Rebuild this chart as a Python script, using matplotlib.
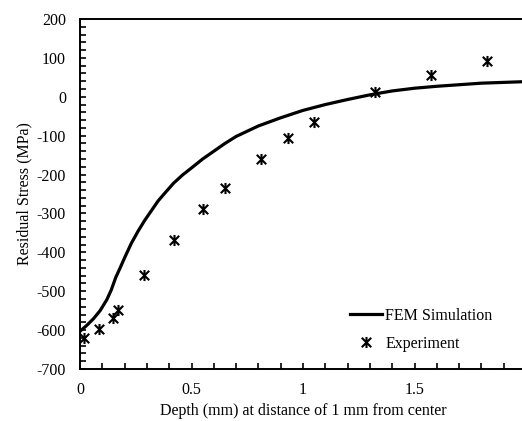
import matplotlib
matplotlib.use("Agg")
import matplotlib.pyplot as plt
from matplotlib.path import Path
from matplotlib.ticker import MultipleLocator

plt.rcParams['font.family'] = ['Liberation Serif', 'DejaVu Serif']
plt.rcParams['axes.unicode_minus'] = False

# FEM simulation curve
fem_depth = [0.0, 0.03, 0.06, 0.09, 0.12, 0.14, 0.16, 0.18, 0.2, 0.23, 0.26,
             0.29, 0.32, 0.35, 0.38, 0.42, 0.46, 0.5, 0.55, 0.6, 0.65, 0.7,
             0.8, 0.9, 1.0, 1.1, 1.2, 1.3, 1.4, 1.5, 1.6, 1.7, 1.8, 1.9, 2.0]
fem_stress = [-603, -588, -571, -550, -522, -497, -465, -440, -414, -377, -346,
              -318, -293, -268, -248, -222, -201, -183, -160, -140, -120, -102,
              -75, -54, -35, -20, -7, 5, 15, 22, 27, 31, 35, 37, 39]

# measured residual stress
exp_depth = [0.019, 0.085, 0.149, 0.172, 0.288, 0.421, 0.552, 0.651, 0.813,
             0.934, 1.049, 1.321, 1.575, 1.825]
exp_stress = [-619, -597, -569, -549, -458, -368, -289, -235, -159, -107,
              -66, 13, 56, 92]

# asterisk: vertical bar plus an X
star = Path([(0, -1), (0, 1), (-0.85, -0.85), (0.85, 0.85), (-0.85, 0.85), (0.85, -0.85)],
            [Path.MOVETO, Path.LINETO, Path.MOVETO, Path.LINETO, Path.MOVETO, Path.LINETO])

fig = plt.figure(figsize=(5.22, 4.21), dpi=100)
ax = fig.add_axes([80 / 522, 1 - 369 / 421, 446 / 522, 350 / 421])

ax.plot(fem_depth, fem_stress, color='black', lw=2.3, label='FEM Simulation',
        solid_joinstyle='round')
ax.plot(exp_depth, exp_stress, linestyle='none', marker=star, markersize=8,
        markeredgewidth=1.5, color='black', label='Experiment')

ax.set_xlim(0, 2)
ax.set_ylim(-700, 200)
ax.xaxis.set_minor_locator(MultipleLocator(0.1))
ax.yaxis.set_major_locator(MultipleLocator(100))
ax.yaxis.set_minor_locator(MultipleLocator(20))
ax.set_xticks([0, 0.5, 1, 1.5])
ax.set_xticklabels(['0', '0.5', '1', '1.5'])
ax.tick_params(which='both', direction='in', top=False, right=False,
               labelsize=11.5, width=1.2, length=4)
ax.tick_params(axis='x', pad=9)
ax.tick_params(axis='y', pad=10)
for s in ax.spines.values():
    s.set_linewidth(1.4)

ax.set_xlabel('Depth (mm) at distance of 1 mm from center', fontsize=11.5, labelpad=4)
ax.set_ylabel('Residual Stress (MPa)', fontsize=11.5, labelpad=3)

ax.legend(loc='lower right', bbox_to_anchor=(507 / 522, 1 - 366 / 421),
          bbox_transform=fig.transFigure, frameon=False, fontsize=11.5,
          handlelength=2.0, handletextpad=0.2, labelspacing=0.75)

fig.savefig('out.png', dpi=100)
